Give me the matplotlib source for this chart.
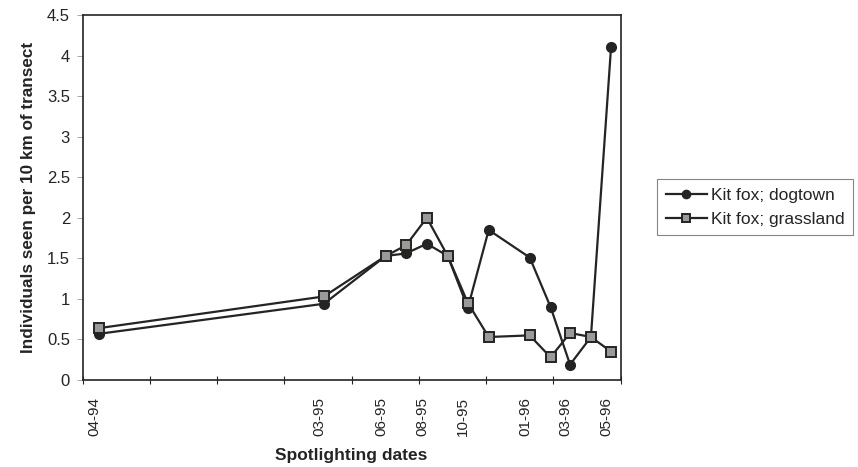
import pandas as pd
import matplotlib
matplotlib.use("Agg")
import matplotlib.pyplot as plt
import matplotlib.dates as mdates
import matplotlib.ticker as mticker

plt.rcParams['font.family'] = ['Liberation Sans', 'DejaVu Sans']

# survey dates (mid-month spotlighting sessions)
survey_dates = ["1994-04-15", "1995-03-15", "1995-06-15", "1995-07-15", "1995-08-15",
                "1995-09-15", "1995-10-15", "1995-11-15", "1996-01-15", "1996-02-15",
                "1996-03-15", "1996-04-15", "1996-05-15"]

dogtown = [0.57, 0.94, 1.53, 1.56, 1.68, 1.53, 0.89, 1.85, 1.51, 0.90, 0.19, 0.53, 4.11]
grassland = [0.64, 1.03, 1.53, 1.66, 2.00, 1.53, 0.95, 0.53, 0.55, 0.28, 0.58, 0.53, 0.35]

label_dates = ["1994-04-08", "1995-03-08", "1995-06-08", "1995-08-08",
               "1995-10-08", "1996-01-08", "1996-03-08", "1996-05-08"]
label_text = ["04-94", "03-95", "06-95", "08-95", "10-95", "01-96", "03-96", "05-96"]

axis_start = pd.Timestamp("1994-03-21")
axis_days = 800
tick_step = 100

x = pd.to_datetime(survey_dates)
ink = '#262323'

fig = plt.figure(figsize=(8.58, 4.67), dpi=100)
ax = fig.add_axes([0.0962, 0.1863, 0.6270, 0.7816])

ax.plot(x, dogtown, color=ink, lw=1.6, marker='o', ms=7,
        mfc=ink, mec=ink, label='Kit fox; dogtown', zorder=3)
ax.plot(x, grassland, color=ink, lw=1.6, marker='s', ms=6.5,
        mfc='#9a9a9a', mec=ink, mew=1.4, label='Kit fox; grassland', zorder=4)

# axis range and regular tick marks
ax.set_xlim(axis_start, axis_start + pd.Timedelta(days=axis_days))
major = [axis_start + pd.Timedelta(days=d) for d in range(0, axis_days + 1, tick_step)]
ax.xaxis.set_major_locator(mticker.FixedLocator(mdates.date2num(major)))
ax.xaxis.set_major_formatter(mticker.NullFormatter())
ax.tick_params(axis='x', which='major', direction='inout', length=6, width=0.8, color=ink)

# date labels at the survey months
ax.xaxis.set_minor_locator(mticker.FixedLocator(mdates.date2num(pd.to_datetime(label_dates))))
ax.xaxis.set_minor_formatter(mticker.FixedFormatter(label_text))
ax.tick_params(axis='x', which='minor', length=0, pad=12, labelsize=11,
               labelrotation=90, labelcolor=ink)

ax.set_ylim(0, 4.5)
ax.set_yticks([0, 0.5, 1, 1.5, 2, 2.5, 3, 3.5, 4, 4.5])
ax.yaxis.set_major_formatter(mticker.FuncFormatter(lambda v, p: f"{v:g}"))
ax.tick_params(axis='y', direction='out', length=4, width=0.6, color='#999999',
               labelsize=12, labelcolor=ink, pad=5)

for s in ax.spines.values():
    s.set_color(ink)
    s.set_linewidth(1.2)

ax.set_ylabel("Individuals seen per 10 km of transect", fontsize=12.3,
              fontweight='bold', color=ink, labelpad=8)
ax.set_xlabel("Spotlighting dates", fontsize=12.5, fontweight='bold', color=ink, labelpad=9)

leg = fig.legend(loc='upper left', bbox_to_anchor=(0.7657, 0.6167), fontsize=12.5,
                 frameon=True, fancybox=False, handlelength=2.4, handletextpad=0.2,
                 borderpad=0.5, labelspacing=0.5, borderaxespad=0, markerscale=0.85)
leg.get_frame().set_edgecolor('#666666')
leg.get_frame().set_linewidth(0.8)
for t in leg.get_texts():
    t.set_color(ink)

fig.savefig("out.png", dpi=100)
